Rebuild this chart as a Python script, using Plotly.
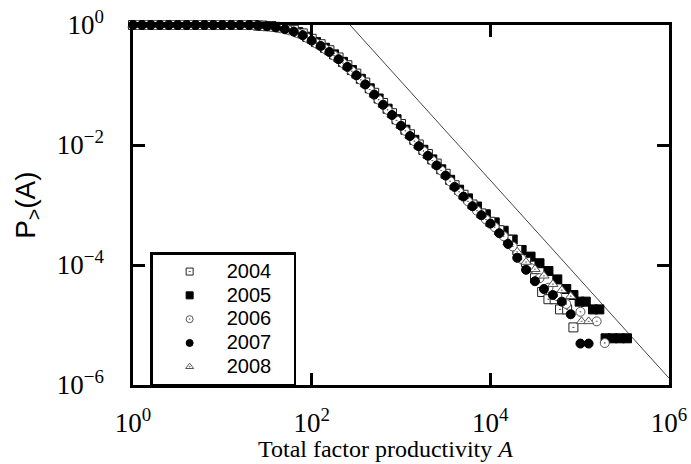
import plotly.graph_objects as go

# Bin centres of total factor productivity A (two interleaved grids)
A_grid = [1.0, 1.26, 1.58, 2.0, 2.51, 3.16, 3.98, 5.01, 6.31, 7.94,
          10.0, 12.6, 15.8, 20.0, 25.1, 31.6, 39.8, 50.1, 63.1, 79.4,
          100, 126, 158, 200, 251, 316, 398, 501, 631, 794,
          1000, 1260, 1580, 2000, 2510, 3160, 3980, 5010, 6310, 7940,
          10000, 12600, 15800, 20000]
A_mid = [1.12, 1.41, 1.78, 2.24, 2.82, 3.55, 4.47, 5.62, 7.08, 8.91,
         11.2, 14.1, 17.8, 22.4, 28.2, 35.5, 44.7, 56.2, 70.8, 89.1,
         112, 141, 178, 224, 282, 355, 447, 562, 708, 891,
         1120, 1410, 1780, 2240, 2820, 3550, 4470, 5620, 7080, 8910,
         11200, 14100, 17800]

# 2004 (open squares) on A_grid + tail
P_2004_body = [1.0] * 14 + [0.977, 0.955, 0.93,
               0.912, 0.832, 0.724, 0.589, 0.479, 0.380, 0.288, 0.214, 0.155, 0.110,
               0.0741, 0.0501, 0.0339, 0.0224, 0.0151, 0.0102, 0.00708, 0.00490, 0.00331, 0.00214,
               0.00148, 0.00102, 7.24e-4, 5.25e-4, 3.80e-4, 2.63e-4, 1.78e-4]
A_2004_tail = [25100, 31600, 38000, 44700, 52500, 60300, 72400, 85100]
P_2004_tail = [1.12e-4, 6.03e-5, 3.55e-5, 2.69e-5, 2.69e-5, 1.82e-5, 1.82e-5, 9.12e-6]

# 2005 (filled squares) on A_mid + tail
P_2005_body = [1.0] * 13 + [1.0, 0.977, 0.955, 0.912, 0.851, 0.759, 0.638, 0.519, 0.417, 0.324,
               0.243, 0.178, 0.127, 0.0881, 0.0596, 0.0403, 0.0269, 0.0180, 0.0122, 0.00832,
               0.00575, 0.00394, 0.00263, 0.00180, 0.00129, 9.44e-4, 7.00e-4, 5.13e-4, 3.72e-4, 2.66e-4]
A_2005_tail = [22400, 28200, 35500, 44700, 56200, 70800, 85100, 100000, 117000, 141000,
               166000, 195000, 234000, 282000, 339000]
P_2005_tail = [1.78e-4, 1.38e-4, 1.07e-4, 7.94e-5, 5.75e-5, 3.98e-5, 3.16e-5, 2.45e-5, 2.45e-5, 1.82e-5,
               1.82e-5, 6.0e-6, 6.0e-6, 6.0e-6, 6.0e-6]

# 2006 (open circles) on A_mid + tail
P_2006_body = [1.0] * 13 + [0.989, 0.966, 0.933, 0.881, 0.813, 0.724, 0.610, 0.495, 0.398, 0.309,
               0.232, 0.170, 0.122, 0.0841, 0.0569, 0.0385, 0.0257, 0.0172, 0.0116, 0.00794,
               0.00550, 0.00376, 0.00248, 0.00166, 0.00115, 8.04e-4, 5.75e-4, 4.27e-4, 3.02e-4, 2.04e-4]
A_2006_tail = [22400, 28200, 35500, 44700, 56200, 70800, 102000, 155000, 191000]
P_2006_tail = [1.26e-4, 8.91e-5, 6.03e-5, 4.17e-5, 3.02e-5, 2.24e-5, 1.66e-5, 1.15e-5, 5.0e-6]

# 2007 (filled circles) on A_grid + tail
P_2007_body = [1.0] * 14 + [0.977, 0.955, 0.912, 0.851, 0.776, 0.676, 0.550, 0.447, 0.355, 0.269,
               0.200, 0.145, 0.102, 0.0692, 0.0468, 0.0316, 0.0209, 0.0141, 0.00955, 0.00661,
               0.00457, 0.00309, 0.00200, 0.00138, 9.55e-4, 6.76e-4, 4.90e-4, 3.39e-4, 2.24e-4, 1.32e-4]
A_2007_tail = [25100, 31600, 39800, 50100, 63100, 79400, 102000, 126000]
P_2007_tail = [8.32e-5, 5.37e-5, 3.98e-5, 3.16e-5, 2.45e-5, 1.51e-5, 4.9e-6, 4.9e-6]

# 2008 (open triangles) on A_grid + tail
P_2008_body = [1.0] * 14 + [0.98, 0.96, 0.92, 0.86, 0.79, 0.69, 0.562, 0.457, 0.363, 0.275,
               0.204, 0.148, 0.105, 0.0708, 0.0479, 0.0324, 0.0214, 0.0145, 0.00977, 0.00676,
               0.00468, 0.00316, 0.00204, 0.00141, 9.77e-4, 6.92e-4, 5.01e-4, 3.55e-4, 2.40e-4, 1.66e-4]
A_2008_tail = [25100, 31600, 39800, 50100, 63100, 79400, 105000, 126000]
P_2008_tail = [1.12e-4, 8.51e-5, 6.61e-5, 4.79e-5, 3.80e-5, 3.02e-5, 1.15e-5, 1.15e-5]

# Guide line (power-law reference)
ref_A = [269, 1.0e6]
ref_P = [1.0, 1.3e-6]

years = ["2004", "2005", "2006", "2007", "2008"]
xtick_vals = [1, 1e2, 1e4, 1e6]
xtick_text = ["10<sup>0</sup>", "10<sup>2</sup>", "10<sup>4</sup>", "10<sup>6</sup>"]
ytick_vals = [1, 1e-2, 1e-4, 1e-6]
ytick_text = ["10<sup>0</sup>", "10<sup>−2</sup>", "10<sup>−4</sup>", "10<sup>−6</sup>"]

series = {
    "2004": (A_grid + A_2004_tail, P_2004_body + P_2004_tail),
    "2005": (A_mid + A_2005_tail, P_2005_body + P_2005_tail),
    "2006": (A_mid + A_2006_tail, P_2006_body + P_2006_tail),
    "2007": (A_grid + A_2007_tail, P_2007_body + P_2007_tail),
    "2008": (A_grid + A_2008_tail, P_2008_body + P_2008_tail),
}

styles = {
    "2004": dict(symbol="square-dot", color="white", line=dict(color="#222", width=1)),
    "2005": dict(symbol="square", color="black", line=dict(color="black", width=1)),
    "2006": dict(symbol="circle-dot", color="white", line=dict(color="#555", width=1)),
    "2007": dict(symbol="circle", color="black", line=dict(color="black", width=1)),
    "2008": dict(symbol="triangle-up-dot", color="white", line=dict(color="#555", width=1)),
}

fig = go.Figure()

fig.add_trace(go.Scatter(x=ref_A, y=ref_P, mode="lines",
                         line=dict(color="#444", width=1), showlegend=False,
                         hoverinfo="skip"))

draw_order = ["2005", "2004", "2006", "2008", "2007"]
for yr in draw_order:
    xs, ys = series[yr]
    st = styles[yr]
    fig.add_trace(go.Scatter(x=xs, y=ys, mode="markers", name=yr, showlegend=False,
                             cliponaxis=False,
                             marker=dict(symbol=st["symbol"], color=st["color"], size=9,
                                         line=st["line"])))

for yr in years:
    st = styles[yr]
    fig.add_trace(go.Scatter(x=[None], y=[None], mode="markers",
                             name="<span style='font-size:20px'>" + yr + "&nbsp;&nbsp;&nbsp;</span>",
                             marker=dict(symbol=st["symbol"], color=st["color"], size=7,
                                         line=st["line"])))

axis_common = dict(
    type="log", showline=True, linecolor="black", linewidth=2.5, mirror="allticks",
    ticks="inside", ticklen=12, tickwidth=2.5, tickcolor="black", showgrid=False,
    zeroline=False, automargin=False,
    tickfont=dict(family="Liberation Serif", size=27, color="black"),
)

fig.update_xaxes(range=[0, 6], tickvals=xtick_vals, ticktext=xtick_text,
                 ticklabelstandoff=12, **axis_common)
fig.update_yaxes(range=[-6, 0], tickvals=ytick_vals, ticktext=ytick_text,
                 ticklabelstandoff=21, **axis_common)

fig.update_layout(
    width=691, height=464,
    margin=dict(l=133, r=22, t=25, b=79),
    plot_bgcolor="white", paper_bgcolor="white",
    legend=dict(x=0.032, y=0.369, xanchor="left", yanchor="top",
                bordercolor="black", borderwidth=2.5, bgcolor="white",
                font=dict(family="Liberation Sans", size=16, color="black"),
                itemwidth=64, tracegroupgap=0),
    annotations=[
        dict(text="Total factor productivity <i>A</i>", xref="paper", yref="paper",
             x=0.472, y=-0.178, xanchor="center", yanchor="middle", showarrow=False,
             font=dict(family="Liberation Serif", size=24, color="black")),
        dict(text="P<sub>&gt;</sub>(A)", xref="paper", yref="paper",
             x=-0.198, y=0.5, xanchor="center", yanchor="middle", showarrow=False,
             textangle=-90,
             font=dict(family="Liberation Sans", size=28, color="black")),
    ],
    showlegend=True,
)

fig.write_html("out.html", config={"displayModeBar": False},
               post_script="document.body.style.margin='0';document.body.style.overflow='hidden';")
